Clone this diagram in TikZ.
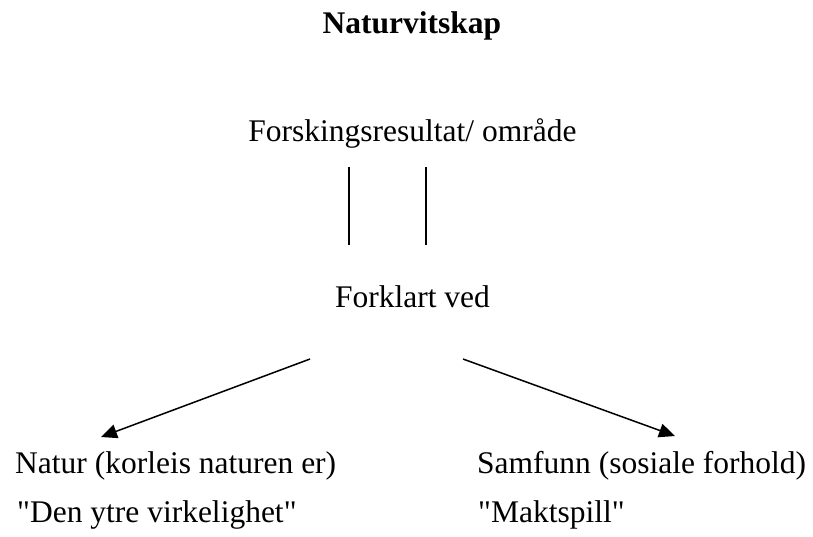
\documentclass[tikz,border=0pt]{standalone}
\usepackage{fontspec}
\setmainfont{Liberation Serif}[Ligatures=TeXOff]
\usetikzlibrary{arrows.meta}
\begin{document}
\begin{tikzpicture}[x=1pt,y=-1pt,
  txt/.style={inner sep=0pt,font=\fontsize{31.5}{36}\selectfont},
  ttl/.style={inner sep=0pt,font=\fontsize{31.5}{36}\selectfont\bfseries},
  link/.style={line width=1.5pt},
  arr/.style={line width=1.5pt,-{Triangle[length=16pt,width=14pt]}}]
\useasboundingbox[fill=white] (0,0) rectangle (813,536);
\node[ttl,anchor=base] (title) at (412,33.5) {Naturvitskap};
\node[txt,anchor=base] (fr) at (412.5,141) {Forskingsresultat/ område};
\node[txt,anchor=base] (fv) at (412.5,307) {Forklart ved};
\node[txt,anchor=base west] (natur) at (15,473) {Natur (korleis naturen er)};
\node[txt,anchor=base west] (ytre) at (17,522) {"Den ytre virkelighet"};
\node[txt,anchor=base west] (samf) at (477,473) {Samfunn (sosiale forhold)};
\node[txt,anchor=base west] (makt) at (478,522) {"Maktspill"};
\coordinate (l1a) at (349,167);
\coordinate (l1b) at (349,245);
\coordinate (l2a) at (426,167);
\coordinate (l2b) at (426,245);
\coordinate (al) at (310,359);
\coordinate (ar) at (463,359);
\coordinate (tl) at (101,437);
\coordinate (tr) at (675,436);
\draw[link] (l1a) -- (l1b);
\draw[link] (l2a) -- (l2b);
\draw[arr] (al) -- (tl);
\draw[arr] (ar) -- (tr);
\end{tikzpicture}
\end{document}
